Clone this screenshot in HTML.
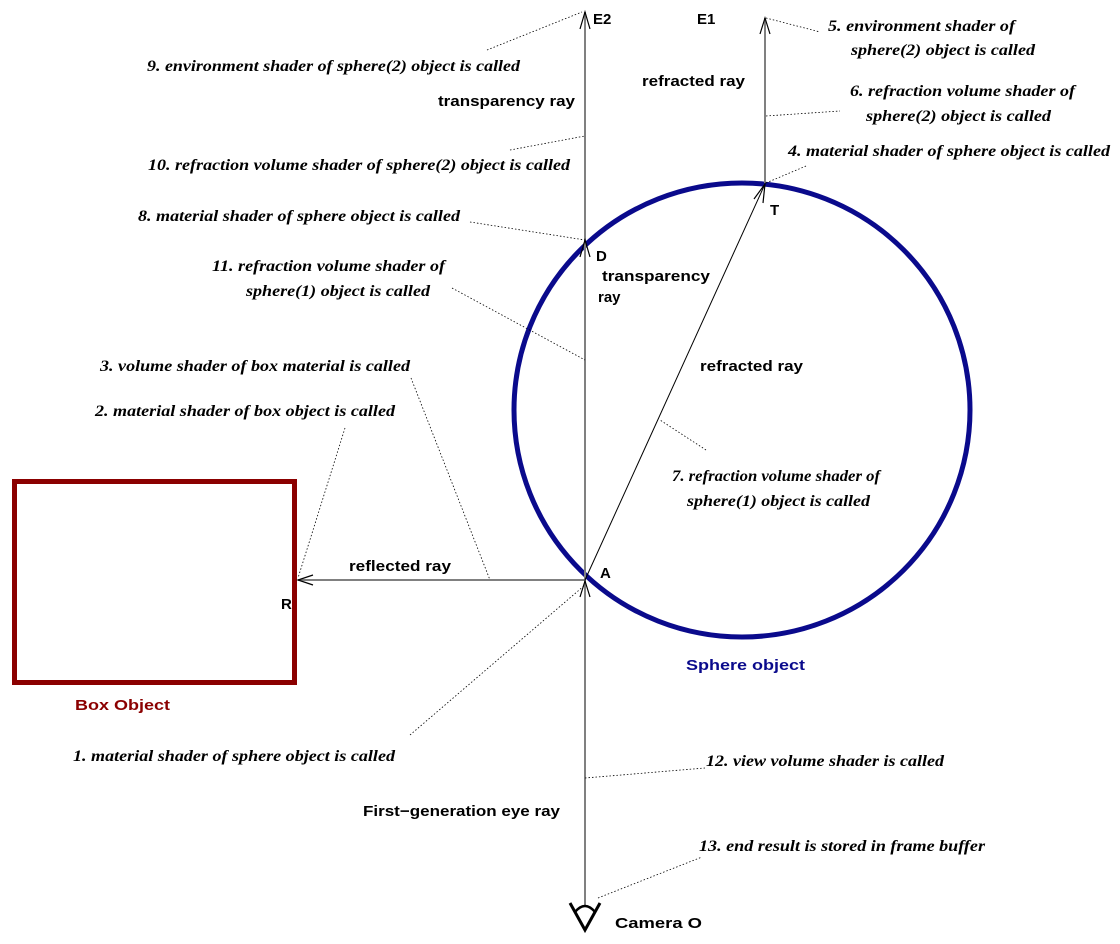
<!DOCTYPE html>
<html><head><meta charset="utf-8"><style>
html,body{margin:0;padding:0;background:#fff;}
svg{display:block;}
.i{font-family:"Liberation Serif",serif;font-style:italic;font-weight:bold;font-size:16px;fill:#000;}
.s{font-family:"Liberation Sans",sans-serif;font-weight:bold;font-size:15px;fill:#000;}
.d{stroke:#000;stroke-width:0.8;stroke-dasharray:1.5 2;fill:none;}
</style></head><body>
<svg width="1120" height="944" viewBox="0 0 1120 944">
<rect x="14.5" y="481.5" width="280" height="201" fill="none" stroke="#8b0000" stroke-width="5"/>
<ellipse cx="742" cy="410" rx="228" ry="227" fill="none" stroke="#0a0a8c" stroke-width="5"/>
<line x1="585" y1="12" x2="585" y2="905" stroke="#808080" stroke-width="2"/>
<line x1="765" y1="18" x2="765" y2="183" stroke="#808080" stroke-width="2"/>
<line x1="585" y1="580" x2="298" y2="580" stroke="#808080" stroke-width="2"/>
<line x1="585" y1="580" x2="765" y2="184" stroke="#000" stroke-width="1"/>
<g stroke="#000" stroke-width="1.2" fill="none">
<polyline points="580,29 585,12 590,29"/>
<polyline points="760,34 765,18 770,34"/>
<polyline points="580,257 585,240 590,257"/>
<polyline points="580,597 585,581 590,597"/>
<polyline points="313,575 298,580 313,585"/>
<polyline points="754,199 765,184 763,203"/>
</g>
<path d="M570,903 L585,930 L600,903" fill="none" stroke="#000" stroke-width="3"/>
<path d="M575,912 Q585,900 595,912" fill="none" stroke="#000" stroke-width="2.5"/>
<line class="d" x1="487" y1="50" x2="582" y2="12"/>
<line class="d" x1="766" y1="18" x2="820" y2="32"/>
<line class="d" x1="766" y1="116" x2="840" y2="111"/>
<line class="d" x1="766" y1="183" x2="806" y2="166"/>
<line class="d" x1="510" y1="150" x2="585" y2="136"/>
<line class="d" x1="470" y1="222" x2="585" y2="240"/>
<line class="d" x1="452" y1="288" x2="585" y2="360"/>
<line class="d" x1="411" y1="378" x2="490" y2="580"/>
<line class="d" x1="345" y1="428" x2="298" y2="578"/>
<line class="d" x1="706" y1="450" x2="660" y2="420"/>
<line class="d" x1="410" y1="735" x2="585" y2="585"/>
<line class="d" x1="585" y1="778" x2="705" y2="768"/>
<line class="d" x1="598" y1="898" x2="702" y2="857"/>
<text class="i" x="147" y="71" textLength="373" lengthAdjust="spacingAndGlyphs">9. environment shader of sphere(2) object is called</text>
<text class="i" x="148" y="170" textLength="422" lengthAdjust="spacingAndGlyphs">10. refraction volume shader of sphere(2) object is called</text>
<text class="i" x="138" y="221" textLength="322" lengthAdjust="spacingAndGlyphs">8. material shader of sphere object is called</text>
<text class="i" x="212" y="271" textLength="233" lengthAdjust="spacingAndGlyphs">11. refraction volume shader of</text>
<text class="i" x="246" y="296" textLength="184" lengthAdjust="spacingAndGlyphs">sphere(1) object is called</text>
<text class="i" x="100" y="371" textLength="310" lengthAdjust="spacingAndGlyphs">3. volume shader of box material is called</text>
<text class="i" x="95" y="416" textLength="300" lengthAdjust="spacingAndGlyphs">2. material shader of box object is called</text>
<text class="i" x="73" y="761" textLength="322" lengthAdjust="spacingAndGlyphs">1. material shader of sphere object is called</text>
<text class="i" x="706" y="766" textLength="238" lengthAdjust="spacingAndGlyphs">12. view volume shader is called</text>
<text class="i" x="699" y="851" textLength="286" lengthAdjust="spacingAndGlyphs">13. end result is stored in frame buffer</text>
<text class="i" x="828" y="31" textLength="187" lengthAdjust="spacingAndGlyphs">5. environment shader of</text>
<text class="i" x="851" y="55" textLength="184" lengthAdjust="spacingAndGlyphs">sphere(2) object is called</text>
<text class="i" x="850" y="96" textLength="225" lengthAdjust="spacingAndGlyphs">6. refraction volume shader of</text>
<text class="i" x="866" y="121" textLength="185" lengthAdjust="spacingAndGlyphs">sphere(2) object is called</text>
<text class="i" x="788" y="156" textLength="322" lengthAdjust="spacingAndGlyphs">4. material shader of sphere object is called</text>
<text class="i" x="672" y="481" textLength="208" lengthAdjust="spacingAndGlyphs">7. refraction volume shader of</text>
<text class="i" x="687" y="506" textLength="183" lengthAdjust="spacingAndGlyphs">sphere(1) object is called</text>
<text class="s" x="593" y="24">E2</text>
<text class="s" x="697" y="24">E1</text>
<text class="s" x="642" y="86" textLength="103" lengthAdjust="spacingAndGlyphs">refracted ray</text>
<text class="s" x="438" y="106" textLength="137" lengthAdjust="spacingAndGlyphs">transparency ray</text>
<text class="s" x="770" y="215">T</text>
<text class="s" x="596" y="261">D</text>
<text class="s" x="602" y="281" textLength="108" lengthAdjust="spacingAndGlyphs">transparency</text>
<text class="s" x="598" y="302">ray</text>
<text class="s" x="700" y="371" textLength="103" lengthAdjust="spacingAndGlyphs">refracted ray</text>
<text class="s" x="349" y="571" textLength="102" lengthAdjust="spacingAndGlyphs">reflected ray</text>
<text class="s" x="600" y="578">A</text>
<text class="s" x="281" y="609">R</text>
<text class="s" x="686" y="670" textLength="119" lengthAdjust="spacingAndGlyphs" style="fill:#0a0a8c">Sphere object</text>
<text class="s" x="75" y="710" textLength="95" lengthAdjust="spacingAndGlyphs" style="fill:#8b0000">Box Object</text>
<text class="s" x="363" y="816" textLength="197" lengthAdjust="spacingAndGlyphs">First−generation eye ray</text>
<text class="s" x="615" y="928" textLength="87" lengthAdjust="spacingAndGlyphs">Camera O</text>
</svg>
</body></html>
